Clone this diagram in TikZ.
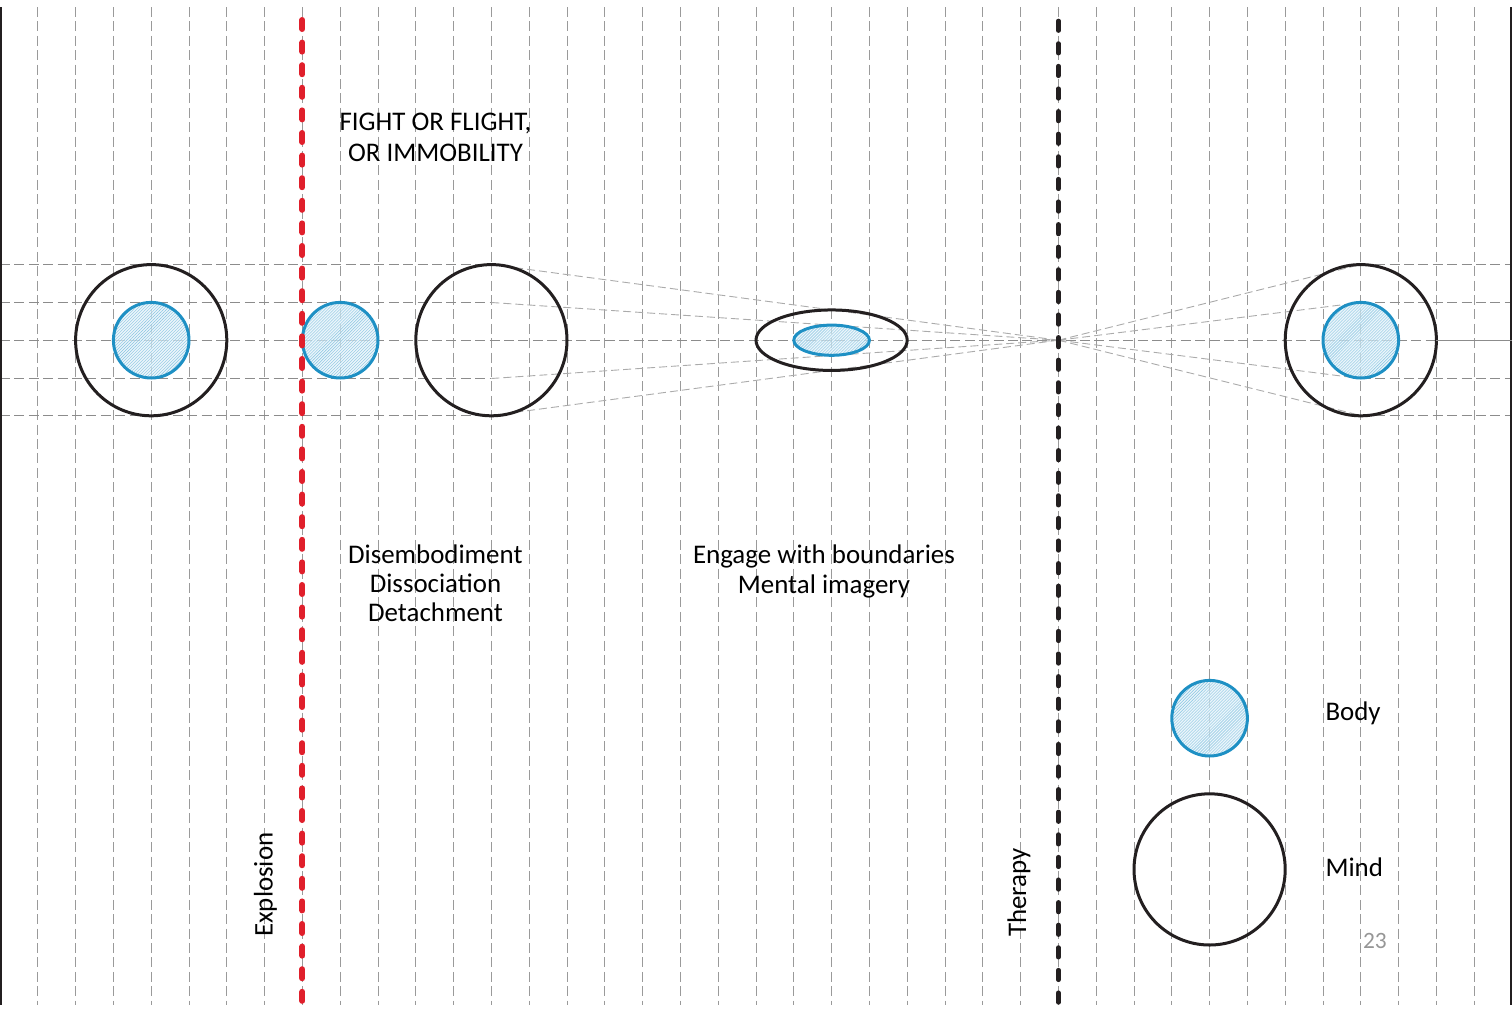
\documentclass[tikz,border=0pt]{standalone}
\usepackage{fontspec}
\setmainfont{Carlito}
\usetikzlibrary{patterns,shapes.geometric}
\definecolor{ink}{HTML}{231F20}
\definecolor{bodyblue}{RGB}{30,144,196}
\definecolor{hatchbg}{HTML}{E2F1F9}
\definecolor{hatchln}{HTML}{86C3E0}
\definecolor{gridgray}{HTML}{9A9A9A}
\definecolor{hgray}{HTML}{8C8C8C}
\definecolor{slopegray}{HTML}{ABABAB}
\definecolor{alarmred}{HTML}{E01F2B}
\definecolor{pagenum}{HTML}{969696}
\pgfdeclarelayer{background}
\pgfsetlayers{background,main}
\begin{document}
\begin{tikzpicture}[x=1bp,y=-1bp,
  gridv/.style={gridgray, line width=1bp, dash pattern=on 10bp off 4.4bp},
  gridh/.style={hgray, line width=1bp, dash pattern=on 10bp off 4.4bp},
  ray/.style={slopegray, line width=0.9bp, dash pattern=on 8bp off 4bp},
  mindc/.style={circle, draw=ink, line width=3bp, minimum size=151.2bp, inner sep=0pt, outer sep=0pt},
  bodyc/.style={circle, draw=bodyblue, line width=3bp, minimum size=75.6bp, inner sep=0pt, outer sep=0pt,
    preaction={fill=hatchbg, fill opacity=0.7}, pattern=north east lines, pattern color=hatchln},
  mindell/.style={ellipse, draw=ink, line width=3bp, minimum width=151.2bp, minimum height=60.5bp, inner sep=0pt, outer sep=0pt},
  bodyell/.style={ellipse, draw=bodyblue, line width=3bp, minimum width=75.6bp, minimum height=30.2bp, inner sep=0pt, outer sep=0pt,
    preaction={fill=hatchbg, fill opacity=0.7}, pattern=north east lines, pattern color=hatchln},
  redline/.style={alarmred, line width=6bp, line cap=round, dash pattern=on 9bp off 13.6bp},
  blackline/.style={ink, line width=4.7bp, line cap=round, dash pattern=on 9.5bp off 13.1bp},
  border/.style={ink, line width=1.6bp},
  lbl/.style={inner sep=0pt, outer sep=0pt, text=black, font=\fontsize{27}{30}\selectfont},
  numlbl/.style={inner sep=0pt, outer sep=0pt, text=pagenum, font=\fontsize{23.5}{26}\selectfont}
]
\useasboundingbox (0,0) rectangle (1512,1011);

% ---------- coordinates ----------
\coordinate (focus) at (1058.4,340.2);
\coordinate (lA) at (491.4,264.5);
\coordinate (lB) at (491.4,302.5);
\coordinate (lC) at (491.4,378.5);
\coordinate (lD) at (491.4,415.5);
\coordinate (rA) at (1360.8,264.5);
\coordinate (rB) at (1360.8,302.5);
\coordinate (rC) at (1360.8,378.5);
\coordinate (rD) at (1360.8,415.5);
\coordinate (eA) at (0,264.5);
\coordinate (eB) at (0,302.5);
\coordinate (eM) at (0,340.5);
\coordinate (eC) at (0,378.5);
\coordinate (eD) at (0,415.5);
\coordinate (fA) at (1512,264.5);
\coordinate (fB) at (1512,302.5);
\coordinate (fM) at (1512,340.5);
\coordinate (fC) at (1512,378.5);
\coordinate (fD) at (1512,415.5);
\coordinate (redtop) at (302.4,20);
\coordinate (redbot) at (302.4,1003);
\coordinate (blktop) at (1058.4,21);
\coordinate (blkbot) at (1058.4,1003);
\coordinate (lbtop) at (1,7);
\coordinate (lbbot) at (1,1005);
\coordinate (rbtop) at (1511,7);
\coordinate (rbbot) at (1511,1005);

% ---------- grid (behind) ----------
\begin{pgfonlayer}{background}
  \foreach \k in {1,...,39} {
    \pgfmathsetmacro\gx{floor(\k*37.8)+0.5}
    \draw[gridv] (\gx,7) -- (\gx,1005);
  }
  \draw[gridh] (eA) -- (lA);
  \draw[gridh] (eB) -- (lB);
  \draw[gridh] (eM) -- (fM);
  \draw[gridh] (eC) -- (lC);
  \draw[gridh] (eD) -- (lD);
  \draw[gridh] (rA) -- (fA);
  \draw[gridh] (rB) -- (fB);
  \draw[gridh] (rC) -- (fC);
  \draw[gridh] (rD) -- (fD);
  \draw[ray] (lA) -- (focus);
  \draw[ray] (lB) -- (focus);
  \draw[ray] (lC) -- (focus);
  \draw[ray] (lD) -- (focus);
  \draw[ray] (focus) -- (rA);
  \draw[ray] (focus) -- (rB);
  \draw[ray] (focus) -- (rC);
  \draw[ray] (focus) -- (rD);
\end{pgfonlayer}

% ---------- borders ----------
\draw[border] (lbtop) -- (lbbot);
\draw[border] (rbtop) -- (rbbot);

% ---------- shapes ----------
\node[bodyc] (b1) at (151.2,340.2) {};
\node[mindc] (m1) at (151.2,340.2) {};
\node[bodyc] (b2) at (340.2,340.2) {};
\node[mindc] (m2) at (491.4,340.2) {};
\node[bodyell] (b3) at (831.6,340.2) {};
\node[mindell] (m3) at (831.6,340.2) {};
\node[bodyc] (b4) at (1360.8,340.2) {};
\node[mindc] (m4) at (1360.8,340.2) {};
\draw[hgray, line width=1bp] (m4.east |- fM) -- (fM);

% legend
\node[bodyc] (lgbody) at (1209.6,718.2) {};
\node[mindc] (lgmind) at (1209.6,869.4) {};

% ---------- thresholds ----------
\draw[redline] (redtop) -- (redbot);
\draw[blackline] (blktop) -- (blkbot);

% ---------- labels ----------
\node[lbl, anchor=base] (f1) at (435.5,130.7) {FIGHT OR FLIGHT,};
\node[lbl, anchor=base] (f2) at (435.5,161) {OR IMMOBILITY};
\node[lbl, anchor=base] (d1) at (435.3,563.4) {Disembodiment};
\node[lbl, anchor=base] (d2) at (435.5,592) {Dissociation};
\node[lbl, anchor=base] (d3) at (435.5,621.3) {Detachment};
\node[lbl, anchor=base] (g1) at (824,563.4) {Engage with boundaries};
\node[lbl, anchor=base] (g2) at (824,593.2) {Mental imagery};
\node[lbl, anchor=base west] (tb) at (1325.5,720) {Body};
\node[lbl, anchor=base west] (tm) at (1325.5,876) {Mind};
\node[numlbl, anchor=base west] (pg) at (1363,948.3) {23};
\node[lbl, anchor=base west, rotate=90] (tx) at (272.6,936.8) {Explosion};
\node[lbl, anchor=base west, rotate=90] (tt) at (1026,936.8) {Therapy};
\end{tikzpicture}
\end{document}
